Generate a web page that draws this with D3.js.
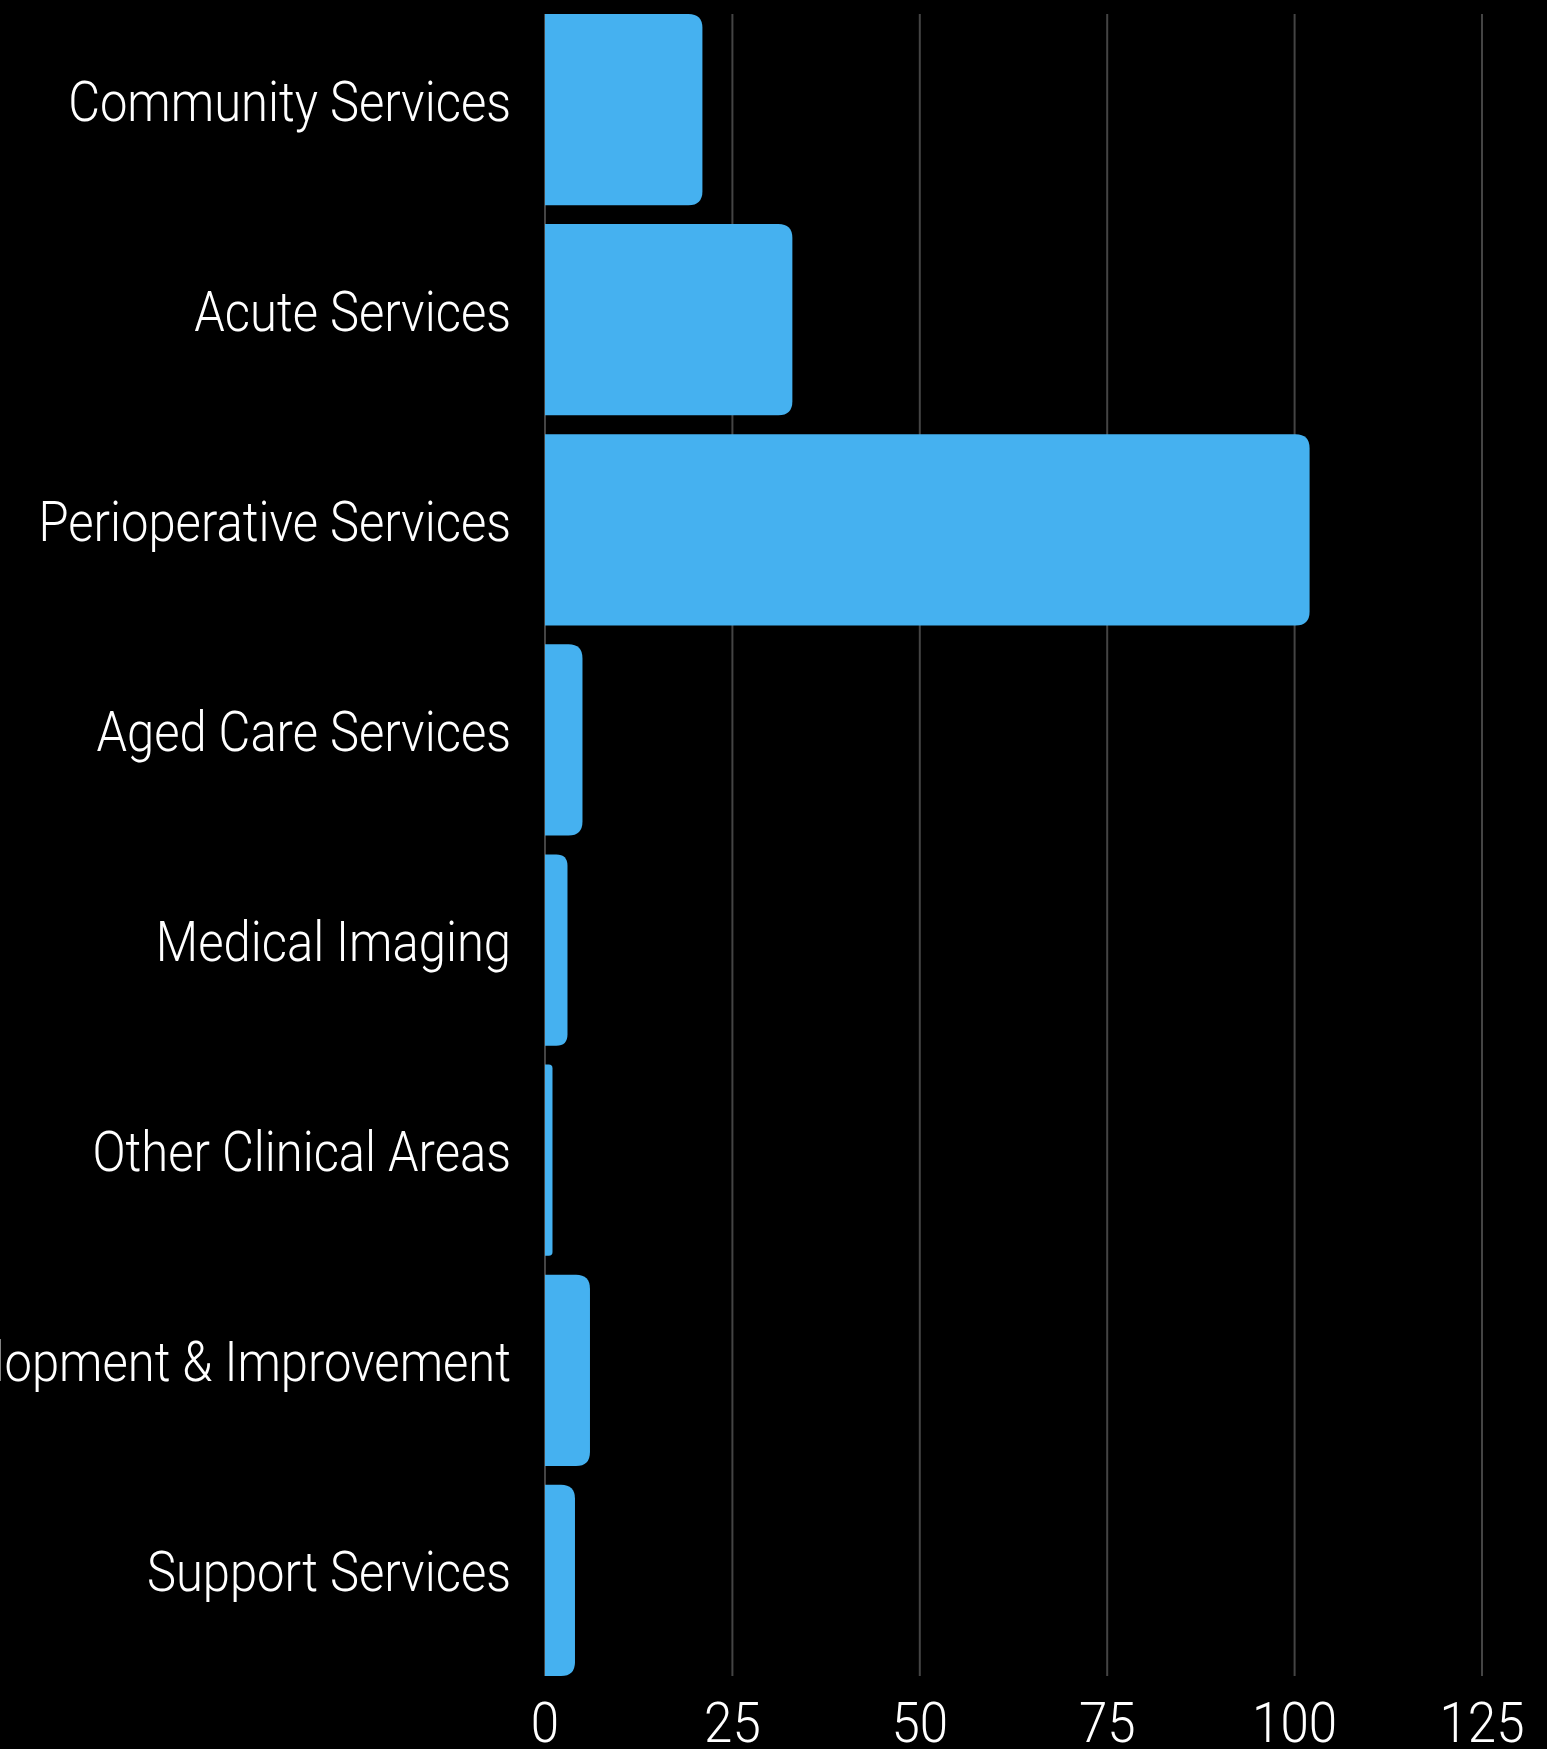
<!DOCTYPE html>
<html>
<head>
<meta charset="utf-8">
<script src="https://cdn.jsdelivr.net/npm/d3@7"></script>
<style>
  html, body { margin: 0; padding: 0; background: #000; }
  svg { display: block; }
  text { font-family: "Roboto", sans-serif; font-weight: 300; fill: #fff; }
</style>
</head>
<body>
<div id="chart"></div>
<script>
// Departments and their values
const categories = [
  "Community Services",
  "Acute Services",
  "Perioperative Services",
  "Aged Care Services",
  "Medical Imaging",
  "Other Clinical Areas",
  "Development & Improvement",
  "Support Services"
];
const values = [21, 33, 102, 5, 3, 1, 6, 4];
const tickValues = [0, 25, 50, 75, 100, 125];

const width = 1547;
const height = 1749;
const margin = { top: 14, right: 65, bottom: 73, left: 545 };

const svg = d3.select("#chart")
  .append("svg")
  .attr("width", width)
  .attr("height", height);

// Scales
const x = d3.scaleLinear()
  .domain([0, 125])
  .range([margin.left, width - margin.right]);

const y = d3.scaleBand()
  .domain(categories)
  .range([margin.top, height - margin.bottom])
  .paddingInner(0.09)
  .paddingOuter(0);

// Grid lines
svg.append("g")
  .selectAll("line")
  .data(tickValues)
  .enter().append("line")
  .attr("x1", d => x(d))
  .attr("x2", d => x(d))
  .attr("y1", margin.top)
  .attr("y2", height - margin.bottom)
  .attr("stroke", "#444")
  .attr("stroke-width", 2);

// Bars, rounded on the right end only
function barPath(v, cat) {
  const x0 = x(0), x1 = x(v);
  const y0 = y(cat), h = y.bandwidth();
  const r = Math.min(14, (x1 - x0) / 2, h / 2);
  return `M${x0},${y0}` +
    `H${x1 - r}` +
    `Q${x1},${y0} ${x1},${y0 + r}` +
    `V${y0 + h - r}` +
    `Q${x1},${y0 + h} ${x1 - r},${y0 + h}` +
    `H${x0}Z`;
}

svg.append("g")
  .selectAll("path")
  .data(categories)
  .enter().append("path")
  .attr("d", (d, i) => barPath(values[i], d))
  .attr("fill", "#45b1f0");

// the reference font is condensed, so squeeze the text horizontally
function squeeze(sample, target) {
  const t = svg.append("text").style("font-size", "56px").text(sample);
  const w = t.node().getComputedTextLength();
  t.remove();
  return target / w;
}
const kLabel = squeeze("Community Services", 443);
const kTick = squeeze("125", 85);

// Category labels
svg.append("g")
  .selectAll("text")
  .data(categories)
  .enter().append("text")
  .attr("transform", d => `translate(${margin.left - 34},${y(d) + y.bandwidth() / 2 + 11}) scale(${kLabel},1)`)
  .attr("text-anchor", "end")
  .style("font-size", "56px")
  .text(d => d);

// Tick labels
svg.append("g")
  .selectAll("text")
  .data(tickValues)
  .enter().append("text")
  .attr("transform", d => `translate(${x(d)},1742) scale(${kTick},1)`)
  .attr("text-anchor", "middle")
  .style("font-size", "56px")
  .text(d => d);
</script>
</body>
</html>
